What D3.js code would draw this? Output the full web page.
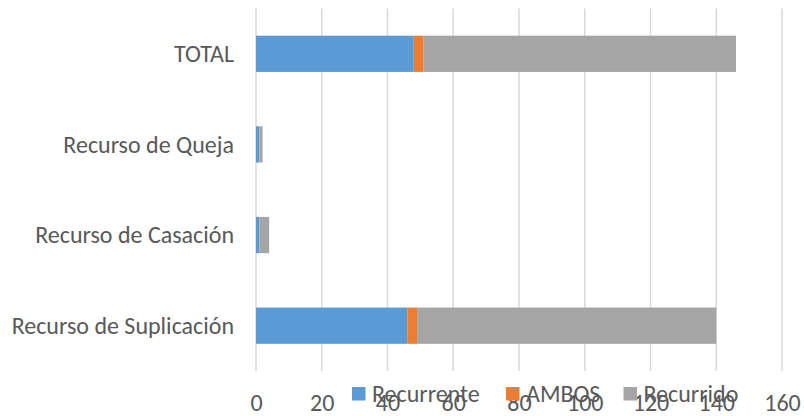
<!DOCTYPE html>
<html><head><meta charset="utf-8">
<script src="https://cdn.jsdelivr.net/npm/d3@7"></script>
<style>html,body{margin:0;padding:0;background:#fff;}</style>
</head><body>
<svg id="c" width="804" height="416"></svg>
<script>
const categories = ["TOTAL", "Recurso de Queja", "Recurso de Casación", "Recurso de Suplicación"];
const seriesNames = ["Recurrente", "AMBOS", "Recurrido"];
const recurrente = [48, 1, 1, 46];
const ambos = [3, 0, 0, 3];
const recurrido = [95, 1, 3, 91];
const xTicks = [0, 20, 40, 60, 80, 100, 120, 140, 160];
const colors = ["#5B9BD5", "#ED7D31", "#A5A5A5"];

const FONT = "Carlito, Calibri, Lato, sans-serif";
const svg = d3.select("#c");
const m = {left: 256, right: 782, top: 8.5, bottom: 371};
const x = d3.scaleLinear().domain([0, 160]).range([m.left, m.right]);
const y = d3.scaleBand().domain(categories).range([m.top, m.bottom]).paddingInner(0.6).paddingOuter(0.3);

const rows = categories.map((c, i) => ({cat: c, Recurrente: recurrente[i], AMBOS: ambos[i], Recurrido: recurrido[i]}));
const stacked = d3.stack().keys(seriesNames)(rows);

// gridlines
svg.append("g").selectAll("line").data(xTicks).join("line")
  .attr("x1", d => x(d)).attr("x2", d => x(d))
  .attr("y1", m.top).attr("y2", m.bottom)
  .attr("stroke", "#D9D9D9").attr("stroke-width", 1.5);

// bars
svg.append("g").selectAll("g").data(stacked).join("g")
  .attr("fill", (d, i) => colors[i])
  .selectAll("rect").data(d => d).join("rect")
  .attr("x", d => x(d[0]))
  .attr("width", d => x(d[1]) - x(d[0]))
  .attr("y", d => y(d.data.cat))
  .attr("height", y.bandwidth());

// x axis labels
const xAxis = d3.axisBottom(x).tickValues(xTicks).tickSize(0).tickPadding(0);
const gx = svg.append("g").attr("transform", `translate(0,${m.bottom})`).call(xAxis);
gx.select(".domain").remove();
gx.selectAll("text").attr("y", 40).attr("dy", 0)
  .attr("fill", "#595959").style("font-family", FONT).style("font-size", "24px");

// y axis labels
const yAxis = d3.axisLeft(y).tickSize(0).tickPadding(22);
const gy = svg.append("g").attr("transform", `translate(${m.left},0)`).call(yAxis);
gy.select(".domain").remove();
gy.selectAll("text").attr("fill", "#595959").attr("dy", "0.35em")
  .style("font-family", FONT).style("font-size", "24px");

// legend
const legendX = [352, 506, 623.5];
const lg = svg.append("g").selectAll("g").data(seriesNames).join("g")
  .attr("transform", (d, i) => `translate(${legendX[i]},387)`);
lg.append("rect").attr("width", 13.5).attr("height", 13.5).attr("fill", (d, i) => colors[i]);
lg.append("text").attr("x", 20).attr("y", 15).text(d => d)
  .attr("fill", "#595959").style("font-family", FONT).style("font-size", "24px");
</script>
</body></html>
